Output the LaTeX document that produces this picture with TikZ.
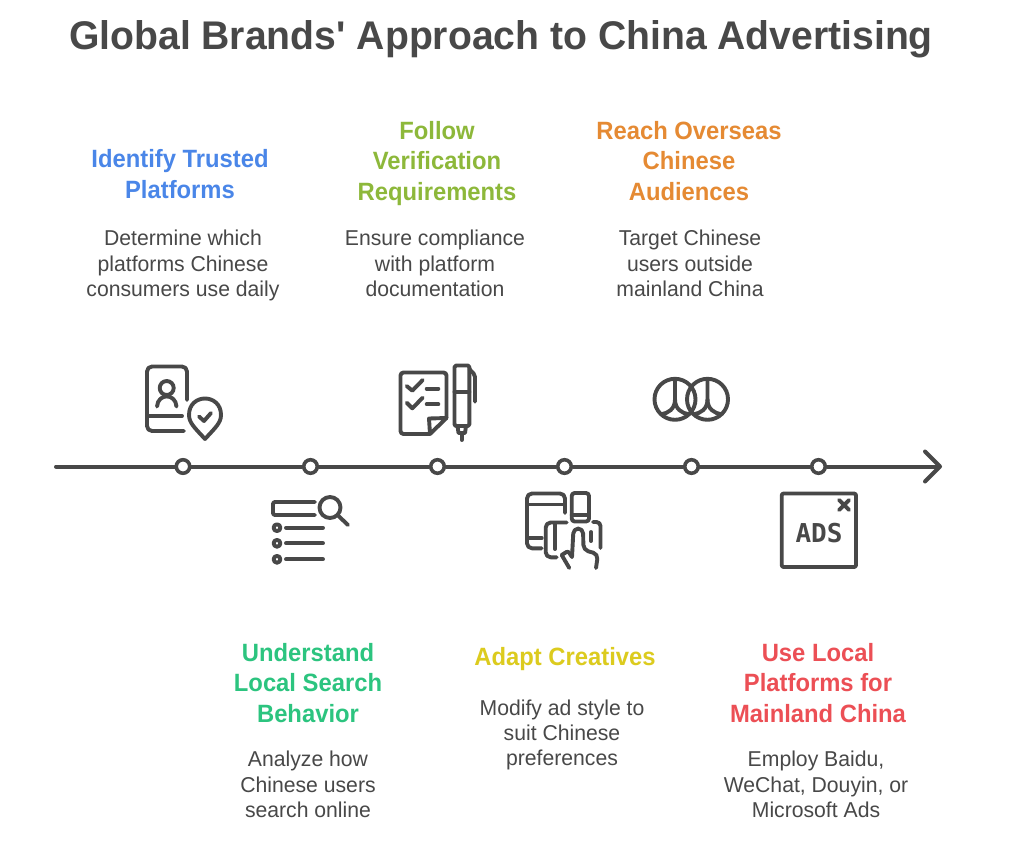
\documentclass[tikz,border=0pt]{standalone}
\usepackage{fontspec}
\setmainfont{Liberation Sans}
\newfontfamily\titlefont[FakeStretch=0.978]{Liberation Sans}
\newfontfamily\headfont[FakeStretch=0.952]{Liberation Sans}
\newfontfamily\bodyfont[FakeStretch=0.985]{Liberation Sans}
\newfontfamily\adsfont{DejaVu Sans Mono}
\usepackage{xcolor}
\usetikzlibrary{arrows.meta}
\definecolor{InkGray}{HTML}{484848}
\definecolor{StepBlue}{HTML}{4A86E8}
\definecolor{StepTeal}{HTML}{2CC47F}
\definecolor{StepLime}{HTML}{8DB83A}
\definecolor{StepYellow}{HTML}{DCCB1E}
\definecolor{StepOrange}{HTML}{E58A33}
\definecolor{StepRed}{HTML}{EC4F55}
\tikzset{
  headtext/.style={align=center, inner sep=0pt, font=\headfont\fontsize{25}{30.5}\selectfont\bfseries},
  bodytext/.style={align=center, inner sep=0pt, text=InkGray, font=\bodyfont\fontsize{21.5}{25.3}\selectfont},
  stepdot/.style={circle, draw=InkGray, fill=white, line width=3.6pt, minimum size=13.5pt, inner sep=0pt},
  axisline/.style={draw=InkGray, line width=4pt, line cap=round},
  iconline/.style={draw=InkGray, line width=3.9pt, line cap=round, line join=round}
}
\begin{document}
\begin{tikzpicture}[x=1pt, y=-1pt]
  \useasboundingbox[fill=white] (0,0) rectangle (1024,845);
  \node[inner sep=0pt, text=InkGray, font=\titlefont\fontsize{40}{48}\selectfont\bfseries] (title) at (501,39) {Global Brands\textquotesingle{} Approach to China Advertising};

  % timeline
  \coordinate (tlstart) at (56,466.5);
  \coordinate (tlend) at (942,466.5);
  \foreach \n/\xpos in {d1/183,d2/310.5,d3/437.5,d4/564.5,d5/691.5,d6/818.5}
    \node[stepdot] (\n) at (\xpos,466.5) {};
  \draw[axisline] (tlstart) -- (d1) -- (d2) -- (d3) -- (d4) -- (d5) -- (d6);
  \draw[axisline, -{Straight Barb[length=15pt, width=30pt, line width=4pt, round]}] (d6) -- (tlend);

  % upper texts
  \node[headtext, text=StepBlue] (h1) at (180,174) {Identify Trusted\\Platforms};
  \node[bodytext] (b1) at (183,265.5) {Determine which\\platforms Chinese\\consumers use daily};
  \node[headtext, text=StepLime] (h3) at (437,163.5) {Follow\\Verification\\Requirements};
  \node[bodytext] (b3) at (435,263.5) {Ensure compliance\\with platform\\documentation};
  \node[headtext, text=StepOrange] (h5) at (689,161) {Reach Overseas\\Chinese\\Audiences};
  \node[bodytext] (b5) at (690,263.5) {Target Chinese\\users outside\\mainland China};

  % lower texts
  \node[headtext, text=StepTeal] (h2) at (308,683) {Understand\\Local Search\\Behavior};
  \node[bodytext] (b2) at (308,784.5) {Analyze how\\Chinese users\\search online};
  \node[headtext, text=StepYellow] (h4) at (565,659) {Adapt Creatives};
  \node[bodytext] (b4) at (562,735) {Modify ad style to\\suit Chinese\\preferences};
  \node[headtext, text=StepRed] (h6) at (818,683) {Use Local\\Platforms for\\Mainland China};
  \node[bodytext] (b6) at (816,784.5) {Employ Baidu,\\WeChat, Douyin, or\\Microsoft Ads};

  % icon: id card with pin
  \draw[iconline, rounded corners=5pt] (187,400) -- (187,366.5) -- (147,366.5) -- (147,431) -- (184,431);
  \draw[iconline] (147,416) -- (182,416);
  \draw[iconline] (166.7,388) circle (7);
  \draw[iconline] (157,406.5) .. controls (158,393) and (175.5,393) .. (176.5,406.5);
  \draw[iconline] (205,439) .. controls (195,428) and (189,423) .. (189,415) .. controls (189,393) and (221,393) .. (221,415) .. controls (221,423) and (215,428) .. (205,439) -- cycle;
  \draw[iconline] (199,416.5) -- (204,421) -- (211,413);

  % icon: search list
  \draw[iconline, rounded corners=2pt] (315,502) -- (273,502) -- (273,515) -- (315,515);
  \draw[iconline] (330,507.5) circle (10.5);
  \draw[iconline] (338,515.5) -- (348,525);
  \foreach \ypos in {527.7,543.3,559.3} {
    \draw[iconline] (277,\ypos) circle (3.4);
    \draw[iconline] (286,\ypos) -- (323,\ypos);
  }

  % icon: checklist and pen
  \draw[iconline, rounded corners=3pt] (430,434) -- (400.5,434) -- (400.5,372.5) -- (446.5,372.5) -- (446.5,418);
  \draw[iconline] (446.5,418) -- (430,434) -- (429,418.5) -- cycle;
  \draw[iconline] (406.7,386) -- (412.3,390.7) -- (422.7,380);
  \draw[iconline] (406.7,402.7) -- (412.3,408.3) -- (422.7,397.7);
  \draw[iconline] (426.7,388.7) -- (438.3,388.7);
  \draw[iconline] (426.7,404.3) -- (438.3,404.3);
  \draw[iconline, rounded corners=1.5pt] (454.5,365.5) rectangle (469.3,426);
  \draw[iconline] (454.5,391.7) -- (469.3,391.7);
  \draw[iconline, rounded corners=2pt] (469.3,369) -- (475,375) -- (475,401.7);
  \draw[iconline] (457.5,426) -- (458.5,433) -- (465,433) -- (466,426);
  \draw[iconline] (461.7,433) -- (461.7,440);

  % icon: tablet, phone and hand
  \draw[iconline, rounded corners=5pt] (565,513) -- (565,493.5) -- (527,493.5) -- (527,548.3) -- (541.7,548.3);
  \draw[iconline] (527,504.5) -- (565,504.5);
  \draw[iconline] (527,538) -- (541.7,538);
  \draw[iconline, rounded corners=3pt] (571.7,493) rectangle (589,521.5);
  \draw[iconline] (571.7,515) -- (589,515);
  \draw[iconline, rounded corners=5pt] (566.7,522.5) -- (545.7,522.5) -- (545.7,557.3) -- (556.7,557.3);
  \draw[iconline] (555,523) -- (555,549);
  \draw[iconline] (561.7,555) -- (569.3,568);
  \draw[iconline, rounded corners=2pt] (561.7,555) -- (568,551) -- (572,557);
  \draw[iconline, rounded corners=5pt] (572,557) -- (573.5,528.5) -- (583,528.5) -- (583.5,550) -- (598,554) -- (596,568);
  \draw[iconline, rounded corners=4pt] (593,522) -- (600.5,522) -- (600.5,548);
  \draw[iconline] (591,532) -- (591,541);

  % icon: two linked circles
  \foreach \xpos in {675,707.5} {
    \begin{scope}[shift={(\xpos,399.3)}]
      \draw[iconline] (0,0) circle (20.5);
      \draw[iconline] (0,-20) -- (0,0) .. controls (0,10) and (-7,14) .. (-14,15);
      \draw[iconline] (0,0) .. controls (0,10) and (7,14) .. (14,15);
    \end{scope}
  }

  % icon: ads window
  \draw[iconline, rounded corners=2pt] (781.7,493.5) rectangle (856,567);
  \draw[iconline] (839,500) -- (849,510);
  \draw[iconline] (849,500) -- (839,510);
  \node[inner sep=0pt, text=InkGray, font=\adsfont\fontsize{26}{26}\selectfont\bfseries] (adslabel) at (819,533.5) {ADS};
\end{tikzpicture}
\end{document}
